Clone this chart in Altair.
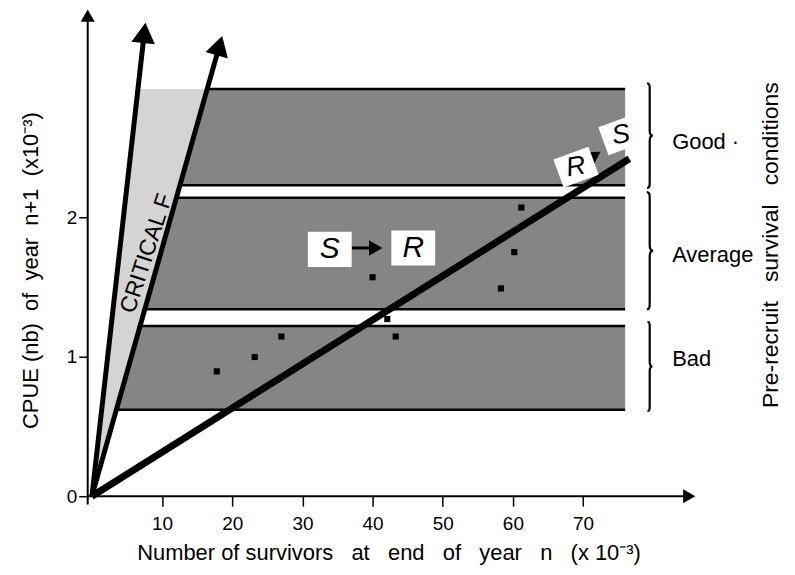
import math
import altair as alt
import pandas as pd

# ---------------- data ----------------
x_ticks = [10, 20, 30, 40, 50, 60, 70]
y_ticks = [0, 1, 2]

band_names = ["Good", "Average", "Bad"]
band_label = ["Good ·", "Average", "Bad"]
band_low = [2.23, 1.34, 0.62]
band_high = [2.92, 2.14, 1.22]
band_x_end = [76.0, 76.0, 76.0]
brace_low = [2.21, 1.34, 0.61]
brace_high = [2.96, 2.18, 1.25]

obs_x = [17.8, 23.2, 27.0, 42.1, 43.3, 40.0, 58.3, 60.2, 61.2]
obs_y = [0.895, 0.998, 1.145, 1.27, 1.145, 1.57, 1.49, 1.75, 2.07]

# lines from the origin: two critical-F arrows and the replacement line
line_names = ["crit_left", "crit_right", "replacement"]
line_end_x = [7.63, 18.57, 76.6]
line_end_y = [3.395, 3.30, 2.42]

# S / R boxes
box_text = ["S", "R", "R", "S"]
box_x = [33.9, 45.8, 69.0, 75.4]
box_y = [1.77, 1.78, 2.36, 2.59]
shift_from_x = [37.0, 69.0]
shift_from_y = [1.78, 2.36]
shift_to_x = [41.4, 72.5]
shift_to_y = [1.78, 2.47]

crit_label = "CRITICAL F"
crit_label_x = 7.8
crit_label_y = 1.74

x_axis_tip = 86.0
y_axis_tip = 3.49

NB = "\u00a0"
right_title = f"Pre-recruit{NB*3}survival{NB*3}conditions"
right_title_x = 96.8
right_title_y = 1.8

x_title = f"Number of survivors{NB*2} at{NB*2} end{NB*2} of{NB*2} year{NB*2} n{NB*2} (x 10⁻³)"
y_title = f"CPUE (nb){NB*2}of{NB*2}year{NB*2}n+1{NB*2}(x10⁻³)"

# ---------------- layout / style ----------------
X_MIN, X_MAX = -0.6, 87.0
Y_MIN, Y_MAX = 0.0, 3.45
W, H = 617, 483
PXX = W / (X_MAX - X_MIN)
PXY = H / (Y_MAX - Y_MIN)
FONT = "Liberation Sans"
BAND_GREY = "#858585"
WEDGE_GREY = "#d4d4d4"

xs = alt.Scale(domain=[X_MIN, X_MAX], nice=False, zero=False)
ys = alt.Scale(domain=[Y_MIN, Y_MAX], nice=False, zero=False)

X_AXIS = alt.Axis(values=x_ticks, domain=False, grid=False, tickSize=10,
                  tickWidth=1.5, tickColor="black", labelFontSize=19,
                  labelPadding=8, labelColor="black", labelFont=FONT,
                  titleFont=FONT, titleFontSize=22, titleFontWeight="normal",
                  titleColor="black", titleX=302, titleY=57,
                  titleBaseline="middle", titleAlign="center")
Y_AXIS = alt.Axis(values=y_ticks, domain=False, grid=False, tickSize=9,
                  tickWidth=1.5, tickColor="black", labelFontSize=19,
                  labelPadding=2, labelColor="black", labelFont=FONT,
                  titleFont=FONT, titleFontSize=22, titleFontWeight="normal",
                  titleColor="black", titleAngle=270, titleX=-57, titleY=256,
                  titleBaseline="middle", titleAlign="center")


def head(tip_x, tip_y, from_x, from_y, size):
    dxp = (tip_x - from_x) * PXX
    dyp = (tip_y - from_y) * PXY
    L = math.hypot(dxp, dyp)
    ux, uy = dxp / L, dyp / L
    h = math.sqrt(3) / 4 * math.sqrt(size)
    return (tip_x - ux * h / PXX, tip_y - uy * h / PXY,
            math.degrees(math.atan2(dxp, dyp)) % 360)


def X(f):
    return alt.X(f, scale=xs, axis=X_AXIS, title=x_title)


def Y(f):
    return alt.Y(f, scale=ys, axis=Y_AXIS, title=y_title)


bands = pd.DataFrame({"name": band_names, "lo": band_low, "hi": band_high,
                      "x0": [0.0] * 3, "x1": band_x_end})
edges = pd.DataFrame({"y": band_low + band_high, "x0": [0.0] * 6, "x1": band_x_end * 2})

k2 = line_end_x[1] / line_end_y[1]
k1 = line_end_x[0] / line_end_y[0]
mask = pd.DataFrame({"y": [0.0, 3.0], "x0": [X_MIN, X_MIN], "x1": [0.0, k2 * 3.0]})
wedge = pd.DataFrame({"y": [0.0, band_high[0]],
                      "x0": [0.0, k1 * band_high[0]],
                      "x1": [0.0, k2 * band_high[0]]})

head_sizes = {"crit_left": 560, "crit_right": 540}
line_rows, head_rows = [], []
for n, ex, ey in zip(line_names, line_end_x, line_end_y):
    if n in head_sizes:
        cx, cy, ang = head(ex, ey, 0, 0, head_sizes[n])
        head_rows.append({"x": cx, "y": cy, "ang": ang, "s": head_sizes[n]})
        line_rows.append({"x0": 0, "y0": 0, "x1": cx, "y1": cy, "w": 5})
    else:
        line_rows.append({"x0": 0, "y0": 0, "x1": ex, "y1": ey, "w": 7})

# axis arrows
cx, cy, ang = head(x_axis_tip, 0, 0, 0, 200)
head_rows.append({"x": cx, "y": cy, "ang": ang, "s": 200})
cx2, cy2, ang2 = head(X_MIN, y_axis_tip, X_MIN, 0, 200)
head_rows.append({"x": cx2, "y": cy2, "ang": ang2, "s": 200})
line_rows.append({"x0": X_MIN, "y0": 0, "x1": cx, "y1": 0, "w": 2})
line_rows.append({"x0": X_MIN, "y0": -0.06, "x1": X_MIN, "y1": cy2, "w": 2})

# shift arrows
for fx, fy, tx, ty in zip(shift_from_x, shift_from_y, shift_to_x, shift_to_y):
    hx, hy, ha = head(tx, ty, fx, fy, 240)
    head_rows.append({"x": hx, "y": hy, "ang": ha, "s": 240})
    line_rows.append({"x0": fx, "y0": fy, "x1": hx, "y1": hy, "w": 3})

lines_df = pd.DataFrame(line_rows)
heads_df = pd.DataFrame(head_rows)

box_size = [1936, 1936, 1400, 1400]
box_angle = [0, 0, 340, 340]
boxes = pd.DataFrame({"t": box_text, "x": box_x, "y": box_y,
                      "s": box_size, "a": box_angle,
                      "ta": [0, 0, 350, 350], "fs": [30, 30, 27, 27]})

braces = pd.DataFrame({"y": [(a + b) / 2 for a, b in zip(brace_low, brace_high)],
                       "s": [((b - a) * PXY) ** 2 for a, b in zip(brace_low, brace_high)],
                       "x": [79.5] * 3})
labels = pd.DataFrame({"t": band_label, "x": [82.7] * 3,
                       "y": [2.54, 1.73, 0.98]})
obs = pd.DataFrame({"x": obs_x, "y": obs_y})

BRACE = ("M-0.05,-1 C0,-1 0,-0.96 0,-0.88 L0,-0.1 C0,-0.03 0.02,0 0.06,0 "
         "C0.02,0 0,0.03 0,0.1 L0,0.88 C0,0.96 0,1 -0.05,1")
RECT = "M-1,-0.8L1,-0.8L1,0.8L-1,0.8Z"

band_layer = alt.Chart(bands).mark_rect(color=BAND_GREY).encode(
    x=X("x0:Q"), x2="x1:Q", y=Y("lo:Q"), y2="hi:Q")

edge_layer = alt.Chart(edges).mark_rule(color="black", strokeWidth=2.5).encode(
    x=X("x0:Q"), x2="x1:Q", y=Y("y:Q"))

mask_layer = alt.Chart(mask).mark_area(orient="horizontal", color="white").encode(
    y=Y("y:Q"), x=X("x0:Q"), x2="x1:Q")

wedge_layer = alt.Chart(wedge).mark_area(orient="horizontal", color=WEDGE_GREY).encode(
    y=Y("y:Q"), x=X("x0:Q"), x2="x1:Q")

line_layer = alt.Chart(lines_df).mark_rule(color="black", strokeCap="butt").encode(
    x=X("x0:Q"), y=Y("y0:Q"), x2="x1:Q", y2="y1:Q",
    strokeWidth=alt.StrokeWidth("w:Q", scale=None))

head_layer = alt.Chart(heads_df).mark_point(shape="triangle-up", filled=True,
                                            color="black", opacity=1).encode(
    x=X("x:Q"), y=Y("y:Q"), angle=alt.Angle("ang:Q", scale=None),
    size=alt.Size("s:Q", scale=None))

obs_layer = alt.Chart(obs).mark_point(shape="square", filled=True, color="black",
                                      opacity=1, size=38).encode(x=X("x:Q"), y=Y("y:Q"))

box_layer = alt.Chart(boxes).mark_point(shape=RECT, filled=True, color="white",
                                        opacity=1).encode(
    x=X("x:Q"), y=Y("y:Q"), size=alt.Size("s:Q", scale=None),
    angle=alt.Angle("a:Q", scale=None))

box_text_layer = alt.Chart(boxes).mark_text(font=FONT, fontStyle="italic",
                                            color="black", align="center",
                                            baseline="middle").encode(
    x=X("x:Q"), y=Y("y:Q"), text="t:N", angle=alt.Angle("ta:Q", scale=None),
    size=alt.Size("fs:Q", scale=None))

crit_layer = alt.Chart(pd.DataFrame({"t": [crit_label], "x": [crit_label_x],
                                     "y": [crit_label_y]})).mark_text(
    font=FONT, fontSize=23, angle=288, color="black", align="center",
    baseline="middle").encode(x=X("x:Q"), y=Y("y:Q"), text="t:N")

brace_layer = alt.Chart(braces).mark_point(shape=BRACE, filled=False, color="black",
                                           strokeWidth=2.2, opacity=1).encode(
    x=X("x:Q"), y=Y("y:Q"), size=alt.Size("s:Q", scale=None))

label_layer = alt.Chart(labels).mark_text(font=FONT, fontSize=22, color="black",
                                          align="left", baseline="middle").encode(
    x=X("x:Q"), y=Y("y:Q"), text="t:N")

right_layer = alt.Chart(pd.DataFrame({"t": [right_title], "x": [right_title_x],
                                      "y": [right_title_y]})).mark_text(
    font=FONT, fontSize=23, angle=270, color="black", align="center",
    baseline="middle").encode(x=X("x:Q"), y=Y("y:Q"), text="t:N")

chart = alt.layer(
    band_layer, edge_layer, mask_layer, wedge_layer, line_layer, head_layer,
    obs_layer, box_layer, box_text_layer, crit_layer, brace_layer, label_layer,
    right_layer,
).properties(
    width=W, height=H,
    background="white",
    autosize=alt.AutoSizeParams(type="none"),
    padding={"left": 80, "top": 6, "right": 85, "bottom": 70},
).configure_view(stroke=None)

chart.save("out.html", embed_options={"renderer": "svg", "actions": False})
